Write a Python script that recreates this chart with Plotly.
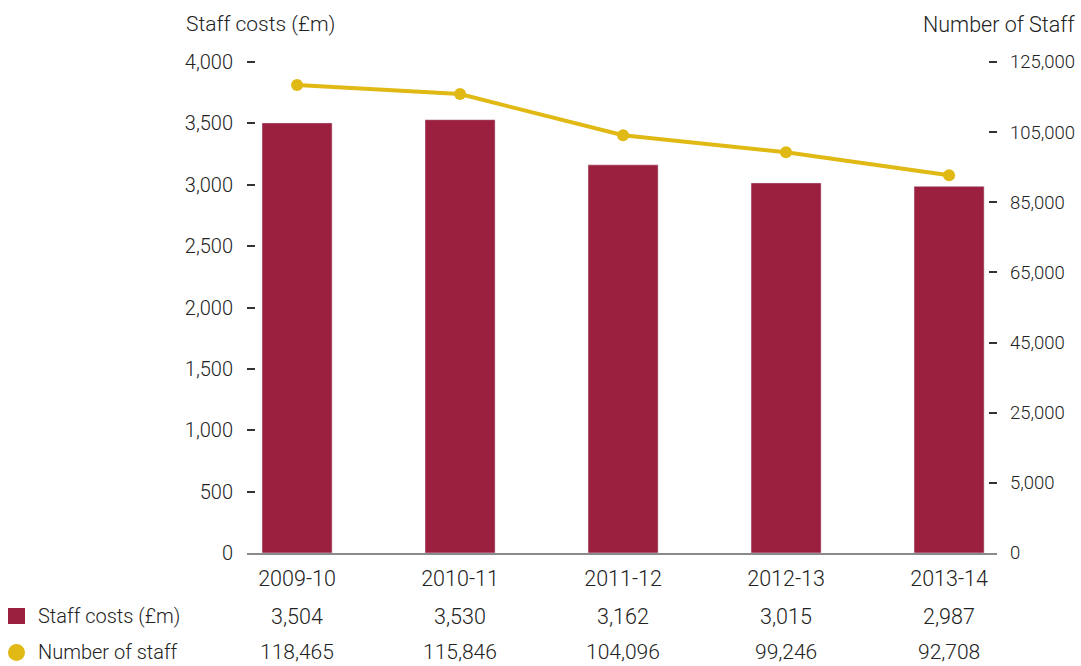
import plotly.graph_objects as go

years = ["2009-10", "2010-11", "2011-12", "2012-13", "2013-14"]
staff_costs = [3504, 3530, 3162, 3015, 2987]
staff_numbers = [118465, 115846, 104096, 99246, 92708]

cost_ticks = [0, 500, 1000, 1500, 2000, 2500, 3000, 3500, 4000]
cost_tick_text = ["0", "500", "1,000", "1,500", "2,000", "2,500", "3,000", "3,500", "4,000"]
# the right axis is broken below 5,000: the bottom tick is drawn as "0"
staff_ticks = [-15000, 5000, 25000, 45000, 65000, 85000, 105000, 125000]
staff_tick_text = ["0", "5,000", "25,000", "45,000", "65,000", "85,000", "105,000", "125,000"]

BAR = "#9B1F3E"
LINE = "#E0B914"
TEXT = "#222222"
FONT = "Roboto"


def font(size):
    return dict(family=FONT, size=size, color=TEXT, weight=300)


fig = go.Figure()
fig.add_trace(go.Bar(x=list(range(len(years))), y=staff_costs, marker_color=BAR,
                     width=0.43, name="Staff costs (£m)", yaxis="y"))
fig.add_trace(go.Scatter(x=list(range(len(years))), y=staff_numbers, mode="lines+markers",
                         line=dict(color=LINE, width=4), marker=dict(color=LINE, size=12),
                         name="Number of staff", yaxis="y2", cliponaxis=False))

# a little headroom above the top ticks so they are not clipped at the plot edge
fig.update_layout(
    width=1081, height=666,
    margin=dict(l=247, r=84, t=60, b=113, autoexpand=False),
    paper_bgcolor="white", plot_bgcolor="white",
    showlegend=False,
    font=font(21),
    xaxis=dict(range=[-0.307, 4.294], tickvals=list(range(len(years))), ticktext=years,
               showline=True, linecolor="#8a8a8a", linewidth=2, showgrid=False,
               zeroline=False, ticks="", ticklabelstandoff=5, tickfont=font(21.5),
               automargin=False),
    yaxis=dict(range=[0, 4016.3], tickvals=cost_ticks, ticktext=cost_tick_text,
               showgrid=False, zeroline=False, showline=False,
               ticks="inside", ticklen=8, tickwidth=1.5, tickcolor="#333333",
               ticklabelstandoff=13, tickfont=font(20), automargin=False),
    yaxis2=dict(range=[-15000, 125570], tickvals=staff_ticks, ticktext=staff_tick_text,
                overlaying="y", side="right", showgrid=False, zeroline=False, showline=False,
                ticks="inside", ticklen=8, tickwidth=1.5, tickcolor="#333333",
                ticklabelstandoff=12, tickfont=font(18.5), automargin=False),
)

ROW_COST = -0.1278
ROW_STAFF = -0.2018

annots = [
    dict(text="Staff costs (£m)", x=-0.084, y=1.073, xanchor="left", size=21),
    dict(text="Number of Staff", x=1.107, y=1.073, xanchor="right", size=21.5),
    dict(text="Staff costs (£m)", x=-0.282, y=ROW_COST, xanchor="left", size=20),
    dict(text="Number of staff", x=-0.282, y=ROW_STAFF, xanchor="left", size=20),
]
for a in annots:
    size = a.pop("size")
    fig.add_annotation(xref="paper", yref="paper", showarrow=False, yanchor="middle",
                       font=font(size), **a)

for i, (c, n) in enumerate(zip(staff_costs, staff_numbers)):
    fig.add_annotation(x=i, xref="x", y=ROW_COST, yref="paper", text=f"{c:,}", showarrow=False,
                       font=font(21.5), yanchor="middle")
    fig.add_annotation(x=i, xref="x", y=ROW_STAFF, yref="paper", text=f"{n:,}", showarrow=False,
                       font=font(21), yanchor="middle")

# key swatches in the table rows
fig.add_shape(type="rect", xref="paper", yref="paper", x0=-0.3187, x1=-0.296,
              y0=-0.1440, y1=-0.1116, fillcolor=BAR, line=dict(width=0))
fig.add_shape(type="circle", xref="paper", yref="paper", x0=-0.3187, x1=-0.296,
              y0=-0.2191, y1=-0.1846, fillcolor=LINE, line=dict(width=0))

fig.write_html("out.html")
